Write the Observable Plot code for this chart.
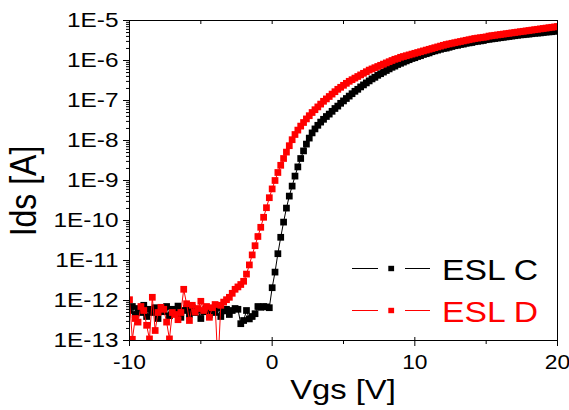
<!DOCTYPE html>
<html><head><meta charset="utf-8">
<script src="https://cdn.jsdelivr.net/npm/d3@7"></script>
<script src="https://cdn.jsdelivr.net/npm/@observablehq/plot@0.6"></script>
<style>
html,body{margin:0;padding:0;background:#fff;}
#chart{position:relative;width:569px;height:410px;}
</style></head><body><div id="chart"></div>
<script>
// Gate sweep (V)
const vgs = [
-10,-9.8,-9.6,-9.4,-9.2,-9,-8.8,-8.6,-8.4,-8.2,
-8,-7.8,-7.6,-7.4,-7.2,-7,-6.8,-6.6,-6.4,-6.2,
-6,-5.8,-5.6,-5.4,-5.2,-5,-4.8,-4.6,-4.4,-4.2,
-4,-3.8,-3.6,-3.4,-3.2,-3,-2.8,-2.6,-2.4,-2.2,
-2,-1.8,-1.6,-1.4,-1.2,-1,-0.8,-0.6,-0.4,-0.2,
0,0.2,0.4,0.6,0.8,1,1.2,1.4,1.6,1.8,
2,2.2,2.4,2.6,2.8,3,3.2,3.4,3.6,3.8,
4,4.2,4.4,4.6,4.8,5,5.2,5.4,5.6,5.8,
6,6.2,6.4,6.6,6.8,7,7.2,7.4,7.6,7.8,
8,8.2,8.4,8.6,8.8,9,9.2,9.4,9.6,9.8,
10,10.2,10.4,10.6,10.8,11,11.2,11.4,11.6,11.8,
12,12.2,12.4,12.6,12.8,13,13.2,13.4,13.6,13.8,
14,14.2,14.4,14.6,14.8,15,15.2,15.4,15.6,15.8,
16,16.2,16.4,16.6,16.8,17,17.2,17.4,17.6,17.8,
18,18.2,18.4,18.6,18.8,19,19.2,19.4,19.6,19.8,
20];

// Ids read as decimal exponents (Ids = 10^value, in A)
const idsC_log10 = [
-12.25,-12.15,-12.35,-12.2,-12.3,-12.12,-12.4,-12.22,-12.3,-12.18,
-12.45,-12.2,-12.28,-12.15,-12.38,-12.22,-12.3,-12.14,-12.42,-12.25,
-12.2,-12.35,-12.18,-12.3,-12.24,-12.45,-12.28,-12.2,-12.36,-12.24,
-12.3,-12.18,-12.4,-12.26,-12.22,-12.35,-12.25,-12.2,-12.22,-12.58,
-12.5,-12.25,-12.46,-12.4,-12.33,-12.15,-12.17,-12.15,-12.16,-12.18,
-11.68,-11.29,-10.83,-10.42,-10.04,-9.69,-9.39,-9.14,-8.89,-8.66,
-8.45,-8.26,-8.09,-7.94,-7.81,-7.71,-7.62,-7.54,-7.47,-7.40,
-7.34,-7.27,-7.20,-7.14,-7.07,-7.01,-6.95,-6.89,-6.83,-6.77,
-6.72,-6.66,-6.61,-6.56,-6.51,-6.46,-6.42,-6.37,-6.33,-6.29,
-6.25,-6.21,-6.17,-6.14,-6.10,-6.07,-6.04,-6.01,-5.98,-5.95,
-5.93,-5.90,-5.88,-5.85,-5.83,-5.81,-5.78,-5.76,-5.74,-5.72,
-5.70,-5.69,-5.67,-5.65,-5.63,-5.62,-5.60,-5.59,-5.57,-5.56,
-5.55,-5.53,-5.52,-5.51,-5.50,-5.48,-5.47,-5.46,-5.45,-5.44,
-5.43,-5.42,-5.41,-5.40,-5.39,-5.38,-5.37,-5.36,-5.355,-5.345,
-5.34,-5.33,-5.32,-5.315,-5.31,-5.30,-5.29,-5.285,-5.28,-5.27,
-5.26];

const idsD_log10 = [
-11.98,-12.97,-12.45,-12.54,-12.15,-12.25,-12.62,-12.96,-11.92,-12.75,
-12.3,-12.17,-12.22,-12.54,-12.96,-12.3,-12.35,-12.48,-12.3,-11.72,
-12.08,-12.5,-12.12,-12.29,-12.2,-12.02,-12.25,-12.15,-12.42,-12.18,
-12.1,-13.6,-12.12,-12.04,-11.98,-11.92,-11.82,-11.72,-11.66,-11.6,
-11.52,-11.34,-11.11,-10.86,-10.63,-10.40,-10.17,-9.92,-9.68,-9.43,
-9.21,-9.00,-8.80,-8.62,-8.45,-8.29,-8.13,-7.98,-7.85,-7.74,
-7.64,-7.55,-7.46,-7.38,-7.30,-7.23,-7.16,-7.09,-7.02,-6.96,
-6.90,-6.84,-6.78,-6.72,-6.67,-6.62,-6.57,-6.52,-6.48,-6.44,
-6.40,-6.36,-6.32,-6.28,-6.24,-6.21,-6.18,-6.15,-6.12,-6.09,
-6.06,-6.03,-6.00,-5.97,-5.95,-5.92,-5.90,-5.88,-5.86,-5.84,
-5.82,-5.80,-5.78,-5.76,-5.74,-5.72,-5.70,-5.68,-5.66,-5.64,
-5.62,-5.60,-5.585,-5.57,-5.555,-5.54,-5.525,-5.51,-5.495,-5.48,
-5.465,-5.45,-5.44,-5.43,-5.42,-5.41,-5.39,-5.38,-5.37,-5.36,
-5.35,-5.34,-5.33,-5.32,-5.31,-5.30,-5.29,-5.28,-5.27,-5.26,
-5.25,-5.24,-5.23,-5.22,-5.21,-5.20,-5.19,-5.18,-5.17,-5.16,
-5.15];

const seriesNames = ["ESL C", "ESL D"];
const seriesColors = ["#000000", "#ff0000"];
const yTickExponents = [-13, -12, -11, -10, -9, -8, -7, -6, -5];
const xTickLabels = [-10, 0, 10, 20];
const xMinorTicks = [-5, 5, 15];
const topTicks = [-5, 0, 5, 10, 15];
const xTitle = "Vgs [V]";
const yTitle = "Ids [A]";

const seriesData = [idsC_log10, idsD_log10];
const rows = [];
seriesNames.forEach((name, i) => {
  seriesData[i].forEach((e, j) => rows.push({series: name, vgs: vgs[j], ids: Math.pow(10, e)}));
});

const yMajor = yTickExponents.map(e => Math.pow(10, e));
const yMinor = [];
yTickExponents.slice(0, -1).forEach(e => { for (let m = 2; m <= 9; m++) yMinor.push(m * Math.pow(10, e)); });

const W = 569, H = 410, mL = 129, mR = 12, mT = 20, mB = 70;
const fw = W - mL - mR, fh = H - mT - mB;

const seriesMarks = seriesNames.flatMap((name, i) => [
  Plot.line(rows.filter(d => d.series === name), {x: "vgs", y: "ids", stroke: seriesColors[i], strokeWidth: 1, clip: true}),
  Plot.dot(rows.filter(d => d.series === name), {x: "vgs", y: "ids", fill: seriesColors[i], symbol: "square", r: 3.8, clip: true})
]);

const plot = Plot.plot({
  width: W, height: H,
  marginLeft: mL, marginRight: mR, marginTop: mT, marginBottom: mB,
  style: {fontFamily: "'Liberation Sans', Arial, sans-serif", fontSize: "19.5px", color: "#000", background: "#fff", overflow: "visible"},
  x: {domain: [-10, 20]},
  y: {type: "log", domain: [1e-13, 1e-5]},
  marks: [
    ...seriesMarks,
    Plot.tickY(yMinor, {y: d => d, stroke: "black", insetLeft: -3, insetRight: fw}),
    Plot.axisY(yMajor, {tickSize: 6, tickPadding: 5, tickFormat: d => "1E" + Math.round(Math.log10(d)), label: null}),
    Plot.tickX(xMinorTicks, {x: d => d, stroke: "black", insetTop: fh, insetBottom: -4}),
    Plot.axisX(xTickLabels, {tickSize: 6, tickPadding: 9, tickFormat: d => String(d), label: null}),
    Plot.tickX(xTickLabels, {x: d => d, stroke: "black", insetTop: fh - 3}),
    Plot.tickX(topTicks, {x: d => d, stroke: "black", insetBottom: fh - 4}),
    Plot.frame({stroke: "black", strokeWidth: 1})
  ]
});

document.getElementById("chart").appendChild(plot);
const svg = d3.select(plot);

function stretch(sel, k) {
  sel.each(function() {
    const L = this.getComputedTextLength();
    this.setAttribute("textLength", (L * k).toFixed(2));
    this.setAttribute("lengthAdjust", "spacingAndGlyphs");
  });
}
stretch(svg.selectAll('g[aria-label="y-axis tick label"] text'), 1.25);
stretch(svg.selectAll('g[aria-label="x-axis tick label"] text'), 1.17);

const font = "'Liberation Sans', Arial, sans-serif";
const xt = svg.append("text")
  .attr("x", mL + fw / 2).attr("y", 398.5)
  .attr("text-anchor", "middle").attr("font-family", font).attr("font-size", 28).attr("fill", "black")
  .text(xTitle);
stretch(xt, 1.17);

svg.append("text")
  .attr("transform", "translate(36,191) rotate(-90) scale(1,1.17)")
  .attr("text-anchor", "middle").attr("font-family", font).attr("font-size", 32).attr("fill", "black")
  .text(yTitle);

// legend (inside plot, lower right)
const lg = svg.append("g");
seriesNames.forEach((name, i) => {
  const cy = 268.5 + i * 42;
  const c = seriesColors[i];
  lg.append("line").attr("x1", 352).attr("x2", 378).attr("y1", cy).attr("y2", cy).attr("stroke", c).attr("stroke-width", 1);
  lg.append("line").attr("x1", 405).attr("x2", 430).attr("y1", cy).attr("y2", cy).attr("stroke", c).attr("stroke-width", 1);
  lg.append("rect").attr("x", 388.3).attr("y", cy - 2.7).attr("width", 5.8).attr("height", 5.4).attr("fill", c);
  const t = lg.append("text").attr("x", 442).attr("y", cy + 11).attr("text-anchor", "start")
    .attr("font-family", font).attr("font-size", 29).attr("fill", c).text(name);
  stretch(t, 1.16);
});
</script>
</body></html>
